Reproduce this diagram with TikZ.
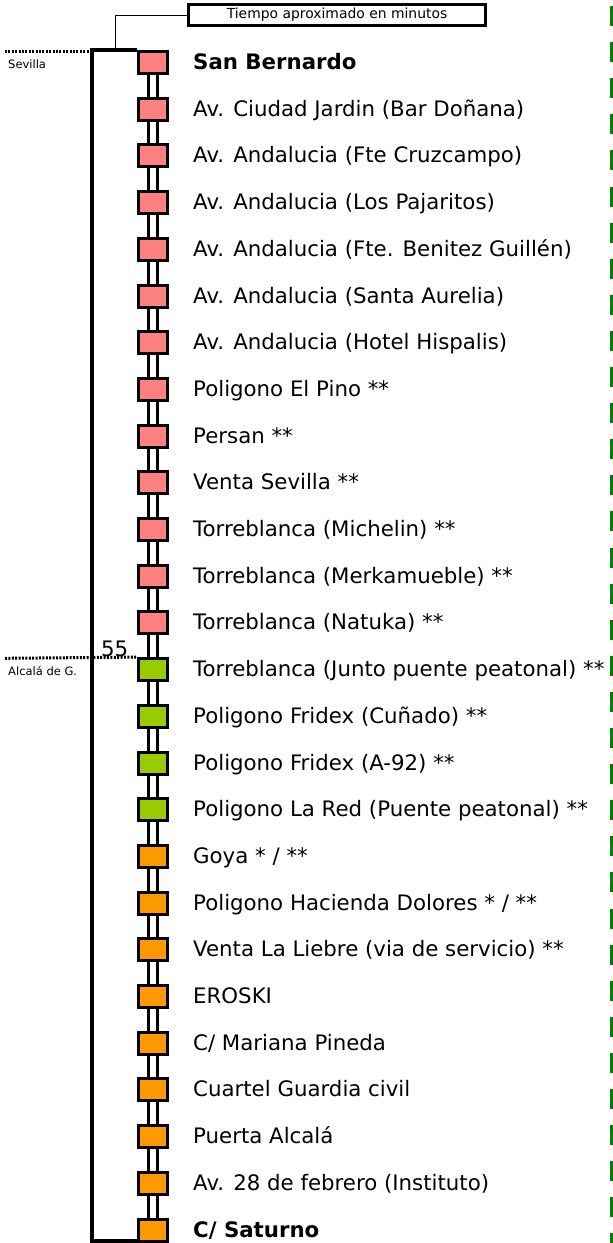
\documentclass[tikz,border=0pt]{standalone}
\usepackage{fontspec}
\setmainfont{DejaVu Sans}
\definecolor{stoppink}{HTML}{FF8080}
\definecolor{stopgreen}{HTML}{99CC00}
\definecolor{stoporange}{HTML}{FF9900}
\definecolor{zonegreen}{HTML}{008000}
\newcommand\stopfont{\fontsize{21.3}{25}\selectfont}
\newcommand\smallfont{\fontsize{11.5}{14}\selectfont}
\begin{document}
\begin{tikzpicture}[x=1pt,y=-1pt,
	stop/.style={draw,line width=3pt,minimum width=29pt,minimum height=22pt,inner sep=0pt,fill=#1},
	link/.style={line width=2.5pt,double=white,double distance=6.5pt},
	stopname/.style={anchor=base west,inner sep=0pt,font=\stopfont},
	zoneline/.style={line width=3pt,dash pattern=on 2pt off 1.4pt}]
			\useasboundingbox (0,0) rectangle (613,1243);
			\draw[zonegreen,line width=2.5pt,dash pattern=on 20pt off 16.1pt] (611.5,6)--(611.5,1243);
			\node[draw,line width=3pt,minimum width=297.5pt,minimum height=20.5pt,inner sep=0pt,font=\fontsize{13.9}{16}\selectfont] (title) at (337,15) {Tiempo aproximado en minutos};
			\foreach \name/\col [count=\i] in {{\textbf{San Bernardo}}/stoppink,{Av. Ciudad Jardin (Bar Doñana)}/stoppink,{Av. Andalucia (Fte Cruzcampo)}/stoppink,{Av. Andalucia (Los Pajaritos)}/stoppink,{Av. Andalucia (Fte. Benitez Guillén)}/stoppink,{Av. Andalucia (Santa Aurelia)}/stoppink,{Av. Andalucia (Hotel Hispalis)}/stoppink,{Poligono El Pino **}/stoppink,{Persan **}/stoppink,{Venta Sevilla **}/stoppink,{Torreblanca (Michelin) **}/stoppink,{Torreblanca (Merkamueble) **}/stoppink,{Torreblanca (Natuka) **}/stoppink,{Torreblanca (Junto puente peatonal) **}/stopgreen,{Poligono Fridex (Cuñado) **}/stopgreen,{Poligono Fridex (A-92) **}/stopgreen,{Poligono La Red (Puente peatonal) **}/stopgreen,{Goya * / **}/stoporange,{Poligono Hacienda Dolores * / **}/stoporange,{Venta La Liebre (via de servicio) **}/stoporange,{EROSKI}/stoporange,{C/ Mariana Pineda}/stoporange,{Cuartel Guardia civil}/stoporange,{Puerta Alcalá}/stoporange,{Av. 28 de febrero (Instituto)}/stoporange,{\textbf{C/ Saturno}}/stoporange}
			{\node[stop=\col] (s\i) at (153,{62.5+46.7*(\i-1)}) {};
			 \node[stopname] (n\i) at (193,{69.5+46.7*(\i-1)}) {\name};}
			\foreach \i [evaluate=\i as \j using int(\i+1)] in {1,...,25}\draw[link] (s\i.south)--(s\j.north);
			\draw[line width=4pt] (s1.north west)--(92,50)|-([yshift=2pt]s26.south west);
			\draw[line width=1pt] (title.west)-|(115.5,50);
			\draw[zoneline] (5,51.5)--(92,51.5);
			\draw[zoneline] (5,658.3)--(s14.north west);
			\node[anchor=base west,inner sep=0pt,font=\smallfont] (sevilla) at (8,68.5) {Sevilla};
			\node[anchor=base west,inner sep=0pt,font=\smallfont] (alcala) at (8,675) {Alcalá de G.};
			\node[anchor=base east,inner sep=0pt,font=\stopfont] (mins) at (128.5,656) {55};
	\end{tikzpicture}
\end{document}
